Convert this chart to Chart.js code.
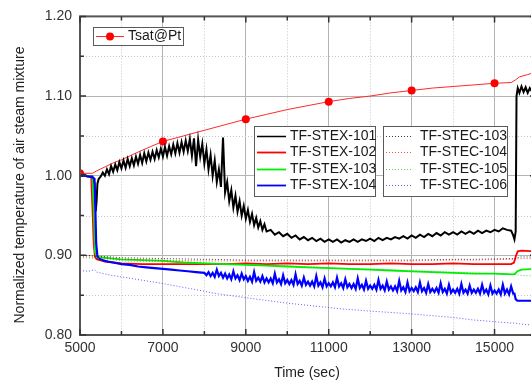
<!DOCTYPE html>
<html>
<head>
<meta charset="utf-8">
<script src="https://cdn.jsdelivr.net/npm/chart.js@4.4.1/dist/chart.umd.min.js"></script>
<style>
  html, body { margin: 0; padding: 0; background: #fff; overflow: hidden; }
  #marco { width: 531px; height: 380px; overflow: hidden; }
</style>
</head>
<body>
<div id="marco"><canvas id="grafica" width="545" height="380"></canvas></div>
<script>
// datos (tiempo en s, temperatura normalizada)
var tTsat = [5000,5300,5400,5600,5800,6000,6500,7000,7500,8000,8500,9000,9500,10000,10500,11000,11500,12000,12500,13000,13500,14000,14500,15000,15400,15500,15600,15800,16000];
var vTsat = [1.003,1.003,1.006,1.011,1.016,1.020,1.032,1.043,1.050,1.057,1.064,1.071,1.077,1.083,1.088,1.093,1.097,1.100,1.104,1.107,1.110,1.112,1.114,1.116,1.117,1.120,1.124,1.127,1.130];

var tStex101 = [5000,5100,5200,5300,5350,5380,5400,5420,5450,
  5500,5550,5600,5650,5700,5750,5800,5850,5900,5950,6000,6050,6100,6150,6200,6250,6300,6350,6400,6450,
  6500,6550,6600,6650,6700,6750,6800,6850,6900,6950,7000,7050,7100,7150,7200,7250,7300,7350,7400,7450,
  7500,7550,7600,7650,7700,7750,7800,7850,7900,7950,8000,8050,8100,8150,8200,8250,8300,8350,8400,8450,
  8500,8550,8600,8650,8700,8750,8800,8850,8900,8950,9000,9050,9100,9150,9200,9250,9300,9350,9400,9450,9500,
  9600,9700,9800,9900,10000,10100,10200,10300,10400,10500,10600,10700,10800,10900,11000,11100,11200,11300,11400,
  11500,11600,11700,11800,11900,12000,12100,12200,12300,12400,12500,12600,12700,12800,12900,13000,13100,13200,13300,13400,
  13500,13600,13700,13800,13900,14000,14100,14200,14300,14400,14500,14600,14700,14800,14900,15000,15100,15200,15300,15400,
  15450,15480,15510,15530,15560,15600,15650,15700,15750,15800,15850,15900,15950,16000];
var vStex101 = [1.000,1.001,0.999,0.999,0.990,0.955,0.968,0.990,0.996,
  0.999,1.004,1.000,1.008,1.002,1.012,1.005,1.014,1.007,1.017,1.009,1.019,1.010,1.021,1.012,1.022,1.013,1.024,1.015,1.026,
  1.016,1.028,1.018,1.029,1.020,1.030,1.021,1.032,1.023,1.034,1.024,1.036,1.025,1.037,1.027,1.039,1.028,1.041,1.029,1.042,
  1.030,1.044,1.031,1.046,1.025,1.047,1.012,1.045,1.024,1.040,1.015,1.033,1.008,1.026,1.000,1.019,0.992,1.008,0.986,1.048,
  0.979,0.992,0.968,0.982,0.960,0.975,0.955,0.968,0.950,0.962,0.946,0.957,0.942,0.952,0.938,0.947,0.935,0.943,0.932,0.939,0.930,
  0.932,0.926,0.929,0.924,0.927,0.922,0.925,0.920,0.923,0.919,0.922,0.918,0.921,0.917,0.920,0.917,0.920,0.916,0.919,
  0.917,0.920,0.917,0.920,0.918,0.921,0.918,0.922,0.919,0.922,0.920,0.923,0.921,0.924,0.921,0.925,0.922,0.926,0.923,0.927,
  0.924,0.928,0.925,0.929,0.926,0.929,0.926,0.930,0.927,0.930,0.927,0.931,0.928,0.931,0.929,0.932,0.930,0.934,0.932,0.931,
  0.925,0.920,0.930,1.100,1.110,1.104,1.112,1.105,1.111,1.104,1.110,1.106,1.109,1.106];

var tStex102 = [5000,5100,5200,5270,5300,5330,5360,5400,5600,5800,6000,6500,7000,7500,8000,8500,9000,9500,10000,10500,11000,11500,12000,12500,13000,13500,14000,14500,15000,15400,15470,15520,15560,15650,16000];
var vStex102 = [1.000,1.000,0.999,0.998,0.960,0.915,0.898,0.895,0.892,0.891,0.890,0.889,0.889,0.889,0.889,0.889,0.890,0.889,0.890,0.889,0.890,0.889,0.889,0.890,0.889,0.889,0.890,0.889,0.889,0.889,0.891,0.900,0.905,0.906,0.905];

var tStex103 = [5000,5100,5200,5300,5330,5360,5400,5600,5800,6000,6500,7000,7500,8000,8500,9000,9500,10000,10500,11000,11500,12000,12500,13000,13500,14000,14500,15000,15450,15500,15550,15650,16000];
var vStex103 = [1.000,1.000,0.999,0.998,0.960,0.905,0.898,0.897,0.896,0.895,0.894,0.893,0.891,0.890,0.889,0.888,0.887,0.886,0.885,0.884,0.883,0.882,0.881,0.880,0.879,0.878,0.877,0.877,0.876,0.877,0.880,0.882,0.883];

var tStex104 = [5000,5100,5200,5300,5350,5370,5390,5420,5450,5500,5600,5700,5800,6000,6200,6400,6600,6800,7000,7200,7400,7600,7800,8000,
  8050,8100,8150,8200,8250,8300,8350,8400,8450,8500,8550,8600,8650,8700,8750,8800,8850,8900,8950,9000,
  9050,9100,9150,9200,9250,9300,9350,9400,9450,9500,9550,9600,9650,9700,9750,9800,9850,9900,9950,10000,
  10050,10100,10150,10200,10250,10300,10350,10400,10450,10500,10550,10600,10650,10700,10750,10800,10850,10900,10950,11000,
  11050,11100,11150,11200,11250,11300,11350,11400,11450,11500,11550,11600,11650,11700,11750,11800,11850,11900,11950,12000,
  12050,12100,12150,12200,12250,12300,12350,12400,12450,12500,12550,12600,12650,12700,12750,12800,12850,12900,12950,13000,
  13050,13100,13150,13200,13250,13300,13350,13400,13450,13500,13550,13600,13650,13700,13750,13800,13850,13900,13950,14000,
  14050,14100,14150,14200,14250,14300,14350,14400,14450,14500,14550,14600,14650,14700,14750,14800,14850,14900,14950,15000,
  15050,15100,15150,15200,15250,15300,15350,15400,15450,15480,15510,15550,15700,16000];
var vStex104 = [1.000,1.000,0.999,0.998,0.996,0.960,0.915,0.899,0.896,0.895,0.893,0.892,0.891,0.889,0.888,0.886,0.885,0.884,0.883,0.882,0.881,0.880,0.879,0.878,
  0.875,0.879,0.874,0.878,0.873,0.882,0.874,0.878,0.872,0.877,0.871,0.876,0.870,0.880,0.871,0.875,0.869,0.877,0.870,0.874,
  0.868,0.873,0.867,0.879,0.868,0.872,0.867,0.874,0.866,0.871,0.866,0.871,0.865,0.877,0.866,0.870,0.864,0.875,0.865,0.869,
  0.864,0.869,0.863,0.876,0.864,0.868,0.862,0.872,0.863,0.867,0.862,0.867,0.861,0.874,0.862,0.866,0.860,0.871,0.861,0.865,
  0.861,0.866,0.860,0.872,0.861,0.865,0.859,0.870,0.860,0.864,0.859,0.864,0.858,0.871,0.859,0.863,0.857,0.868,0.858,0.862,
  0.858,0.863,0.857,0.869,0.858,0.862,0.856,0.867,0.857,0.861,0.856,0.861,0.855,0.868,0.856,0.860,0.854,0.866,0.855,0.859,
  0.855,0.860,0.854,0.866,0.855,0.859,0.853,0.864,0.854,0.858,0.854,0.859,0.853,0.865,0.854,0.858,0.852,0.863,0.853,0.857,
  0.853,0.858,0.852,0.864,0.853,0.857,0.852,0.862,0.853,0.857,0.853,0.858,0.852,0.863,0.853,0.857,0.851,0.862,0.852,0.856,
  0.852,0.857,0.851,0.863,0.852,0.857,0.851,0.861,0.852,0.852,0.845,0.843,0.843,0.843];

var tStec = [5000,5200,5350,5400,5750,6000,6950,8000,8160,8970,10000,11270,12000,12880,14000,14470,15400,15500,15600,16000];
var vStec103 = [0.900,0.900,0.899,0.899,0.898,0.897,0.896,0.895,0.895,0.894,0.894,0.894,0.894,0.894,0.895,0.895,0.896,0.896,0.898,0.898];
var vStec104 = [0.899,0.898,0.898,0.897,0.896,0.895,0.894,0.893,0.893,0.893,0.893,0.893,0.893,0.893,0.894,0.894,0.895,0.895,0.896,0.896];
var vStec105 = [0.897,0.897,0.896,0.896,0.895,0.893,0.892,0.891,0.890,0.889,0.887,0.884,0.883,0.881,0.879,0.878,0.876,0.876,0.875,0.874];
var vStec106 = [0.881,0.880,0.882,0.879,0.875,0.873,0.865,0.855,0.853,0.847,0.840,0.833,0.830,0.827,0.822,0.819,0.815,0.815,0.814,0.812];

function puntos(t, v) {
  return t.map(function (x, i) { return { x: x, y: v[i] }; });
}

var fuente = '"Liberation Sans", Arial, sans-serif';

var datasets = [
  { label: 'Tsat@Pt', data: puntos(tTsat, vTsat), borderColor: '#ff2a2a', borderWidth: 1, order: 9,
    pointRadius: function (c) { return c.raw && c.raw.x % 2000 === 1000 ? 4 : 0; },
    pointBackgroundColor: '#ff0000', pointBorderWidth: 0, marcador: true },
  { label: 'TF-STEX-101', data: puntos(tStex101, vStex101), borderColor: '#000000', borderWidth: 2, order: 8, anchoLeyenda: 1.5 },
  { label: 'TF-STEX-102', data: puntos(tStex102, vStex102), borderColor: '#ff0000', borderWidth: 1.8, order: 7 },
  { label: 'TF-STEX-103', data: puntos(tStex103, vStex103), borderColor: '#00f000', borderWidth: 1.8, order: 6 },
  { label: 'TF-STEX-104', data: puntos(tStex104, vStex104), borderColor: '#0000ff', borderWidth: 2.2, order: 5, anchoLeyenda: 1.8 },
  { label: 'TF-STEC-103', data: puntos(tStec, vStec103), borderColor: 'rgba(0,0,0,0.75)', borderWidth: 1, borderDash: [1, 2], order: 4 },
  { label: 'TF-STEC-104', data: puntos(tStec, vStec104), borderColor: 'rgba(255,0,0,0.7)', borderWidth: 1, borderDash: [1, 2], order: 3 },
  { label: 'TF-STEC-105', data: puntos(tStec, vStec105), borderColor: 'rgba(0,200,0,0.7)', borderWidth: 1, borderDash: [1, 2], order: 2 },
  { label: 'TF-STEC-106', data: puntos(tStec, vStec106), borderColor: 'rgba(40,40,255,0.75)', borderWidth: 1, borderDash: [1, 2], order: 1 }
];
datasets.forEach(function (d) {
  if (d.pointRadius === undefined) d.pointRadius = 0;
  d.fill = false;
  d.tension = 0;
});

function esMayorX(v) { return Math.round(v) % 2000 === 1000; }
function esMayorY(v) { return Math.round(v * 20) % 2 === 0; }

var cajas = [
  { x: 93, y: 27, w: 90, h: 18, l0: 3, l1: 31, tx: 35, fila0: 9, paso: 16, indices: [0] },
  { x: 254, y: 126, w: 121, h: 70, l0: 3, l1: 32, tx: 36, fila0: 10, paso: 16.3, indices: [1, 2, 3, 4] },
  { x: 383, y: 126, w: 124, h: 70, l0: 3, l1: 30, tx: 37, fila0: 10, paso: 16.3, indices: [5, 6, 7, 8] }
];

var decorado = {
  id: 'decorado',
  beforeDatasetsDraw: function (chart) {
    var ctx = chart.ctx, a = chart.chartArea, sx = chart.scales.x, sy = chart.scales.y;
    ctx.save();
    ctx.strokeStyle = '#c4c4c4';
    ctx.lineWidth = 1;
    ctx.setLineDash([1, 2]);
    sx.ticks.forEach(function (t) {
      if (esMayorX(t.value)) return;
      var px = Math.round(sx.getPixelForValue(t.value)) + 0.5;
      ctx.beginPath(); ctx.moveTo(px, a.top); ctx.lineTo(px, a.bottom); ctx.stroke();
    });
    sy.ticks.forEach(function (t) {
      if (esMayorY(t.value)) return;
      var py = Math.round(sy.getPixelForValue(t.value)) + 0.5;
      ctx.beginPath(); ctx.moveTo(a.left, py); ctx.lineTo(a.right, py); ctx.stroke();
    });
    ctx.restore();
  },
  afterDatasetsDraw: function (chart) {
    var ctx = chart.ctx, a = chart.chartArea, sx = chart.scales.x, sy = chart.scales.y;
    ctx.save();
    // marco
    ctx.strokeStyle = '#555';
    ctx.lineWidth = 2;
    ctx.strokeRect(a.left, a.top, a.right - a.left, a.bottom - a.top);
    // marcas hacia dentro
    ctx.strokeStyle = '#333';
    ctx.lineWidth = 1.5;
    sx.ticks.forEach(function (t) {
      var px = sx.getPixelForValue(t.value), l = esMayorX(t.value) ? 6 : 4;
      ctx.beginPath();
      ctx.moveTo(px, a.bottom); ctx.lineTo(px, a.bottom - l);
      ctx.moveTo(px, a.top); ctx.lineTo(px, a.top + l);
      ctx.stroke();
    });
    sy.ticks.forEach(function (t) {
      var py = sy.getPixelForValue(t.value), l = esMayorY(t.value) ? 6 : 4;
      ctx.beginPath();
      ctx.moveTo(a.left, py); ctx.lineTo(a.left + l, py);
      ctx.moveTo(a.right, py); ctx.lineTo(a.right - l, py);
      ctx.stroke();
    });
    // leyendas
    ctx.font = '14px ' + fuente;
    ctx.textBaseline = 'middle';
    cajas.forEach(function (c) {
      ctx.fillStyle = '#fff';
      ctx.fillRect(c.x, c.y, c.w, c.h);
      ctx.strokeStyle = '#5a5a5a';
      ctx.lineWidth = 1;
      ctx.setLineDash([]);
      ctx.strokeRect(c.x + 0.5, c.y + 0.5, c.w, c.h);
      c.indices.forEach(function (i, fila) {
        var ds = chart.data.datasets[i];
        var y = Math.round(c.y + c.fila0 + fila * c.paso) + 0.5;
        ctx.strokeStyle = ds.borderColor;
        ctx.lineWidth = ds.anchoLeyenda || ds.borderWidth;
        ctx.setLineDash(ds.borderDash || []);
        ctx.beginPath(); ctx.moveTo(c.x + c.l0, y); ctx.lineTo(c.x + c.l1, y); ctx.stroke();
        ctx.setLineDash([]);
        if (ds.marcador) {
          ctx.fillStyle = ds.pointBackgroundColor;
          ctx.beginPath(); ctx.arc(c.x + (c.l0 + c.l1) / 2, y, 4, 0, Math.PI * 2); ctx.fill();
        }
        ctx.fillStyle = '#1a1a1a';
        ctx.fillText(ds.label, c.x + c.tx, y);
      });
    });
    // titulos de ejes
    ctx.fillStyle = '#222';
    ctx.textAlign = 'center';
    ctx.fillText('Time (sec)', 307, 373);
    ctx.translate(20, 185);
    ctx.rotate(-Math.PI / 2);
    ctx.fillText('Normalized temperature of air steam mixture', 0, 0);
    ctx.restore();
  }
};

var grafica = new Chart(document.getElementById('grafica'), {
  type: 'line',
  data: { datasets: datasets },
  options: {
    responsive: false,
    animation: false,
    layout: { padding: { left: 0, right: 9, top: 16, bottom: 0 } },
    plugins: { legend: { display: false }, tooltip: { enabled: false } },
    scales: {
      x: {
        type: 'linear', min: 5000, max: 16000,
        afterFit: function (s) { s.height = 45; },
        border: { display: false },
        grid: { drawTicks: false, color: function (c) { return esMayorX(c.tick.value) ? '#b4b4b4' : 'rgba(0,0,0,0)'; } },
        ticks: {
          stepSize: 1000, autoSkip: false, maxRotation: 0, includeBounds: false, padding: 5,
          color: '#333', font: { family: fuente, size: 14 },
          callback: function (v) { return esMayorX(v) ? String(v) : ''; }
        }
      },
      y: {
        min: 0.8, max: 1.2,
        afterFit: function (s) { s.width = 80; },
        border: { display: false },
        grid: { drawTicks: false, color: function (c) { return esMayorY(c.tick.value) ? '#b4b4b4' : 'rgba(0,0,0,0)'; } },
        ticks: {
          stepSize: 0.05, autoSkip: false, padding: 8,
          color: '#333', font: { family: fuente, size: 14 },
          callback: function (v) { return esMayorY(v) ? v.toFixed(2) : ''; }
        }
      }
    }
  },
  plugins: [decorado]
});
</script>
</body>
</html>
